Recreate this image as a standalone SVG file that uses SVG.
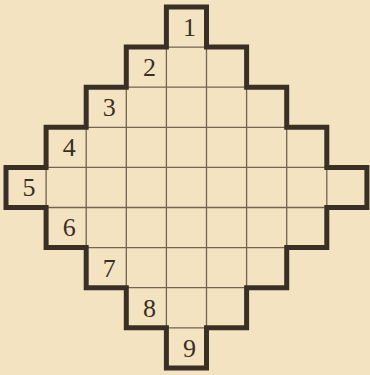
<svg xmlns="http://www.w3.org/2000/svg" width="370" height="375" viewBox="0 0 370 375">
<style>
.bg{fill:#f3e3c1}
.thin{stroke:#736350;stroke-width:1.3;fill:none}
.thick{stroke:#3a2f24;stroke-width:5;fill:none;stroke-linejoin:miter}
.lbl{font-family:"Liberation Serif","DejaVu Serif",serif;font-size:26px;fill:#3a2f24;text-anchor:middle}
</style>
<rect class="bg" x="0" y="0" width="370" height="375"/>
<g id="grid">
<path class="thin" d="M166.4,47.1H206.5 M126.3,87.2H246.6 M86.2,127.3H286.7 M46.1,167.4H326.8 M46.1,207.5H326.8 M86.2,247.6H286.7 M126.3,287.7H246.6 M166.4,327.8H206.5"/>
<path class="thin" d="M166.4,47.1V87.2 M206.5,47.1V87.2
M126.3,87.2V127.3 M166.4,87.2V127.3 M206.5,87.2V127.3 M246.6,87.2V127.3
M86.2,127.3V167.4 M126.3,127.3V167.4 M166.4,127.3V167.4 M206.5,127.3V167.4 M246.6,127.3V167.4 M286.7,127.3V167.4
M46.1,167.4V207.5 M86.2,167.4V207.5 M126.3,167.4V207.5 M166.4,167.4V207.5 M206.5,167.4V207.5 M246.6,167.4V207.5 M286.7,167.4V207.5 M326.8,167.4V207.5
M86.2,207.5V247.6 M126.3,207.5V247.6 M166.4,207.5V247.6 M206.5,207.5V247.6 M246.6,207.5V247.6 M286.7,207.5V247.6
M126.3,247.6V287.7 M166.4,247.6V287.7 M206.5,247.6V287.7 M246.6,247.6V287.7
M166.4,287.7V327.8 M206.5,287.7V327.8"/>
</g>
<g id="outline">
<path class="thick" d="M166.4,7H206.5V47.1H246.6V87.2H286.7V127.3H326.8V167.4H366.9V207.5H326.8V247.6H286.7V287.7H246.6V327.8H206.5V367.9H166.4V327.8H126.3V287.7H86.2V247.6H46.1V207.5H6V167.4H46.1V127.3H86.2V87.2H126.3V47.1H166.4Z"/>
</g>
<g id="row1"><text class="lbl" x="189.5" y="35.8">1</text></g>
<g id="row2"><text class="lbl" x="149.4" y="76">2</text></g>
<g id="row3"><text class="lbl" x="109.3" y="116.1">3</text></g>
<g id="row4"><text class="lbl" x="69.2" y="156.2">4</text></g>
<g id="row5"><text class="lbl" x="29.1" y="196.3">5</text></g>
<g id="row6"><text class="lbl" x="69.2" y="236.4">6</text></g>
<g id="row7"><text class="lbl" x="109.3" y="276.5">7</text></g>
<g id="row8"><text class="lbl" x="149.4" y="316.6">8</text></g>
<g id="row9"><text class="lbl" x="189.5" y="356.7">9</text></g>
<g id="connectors"></g>
</svg>
